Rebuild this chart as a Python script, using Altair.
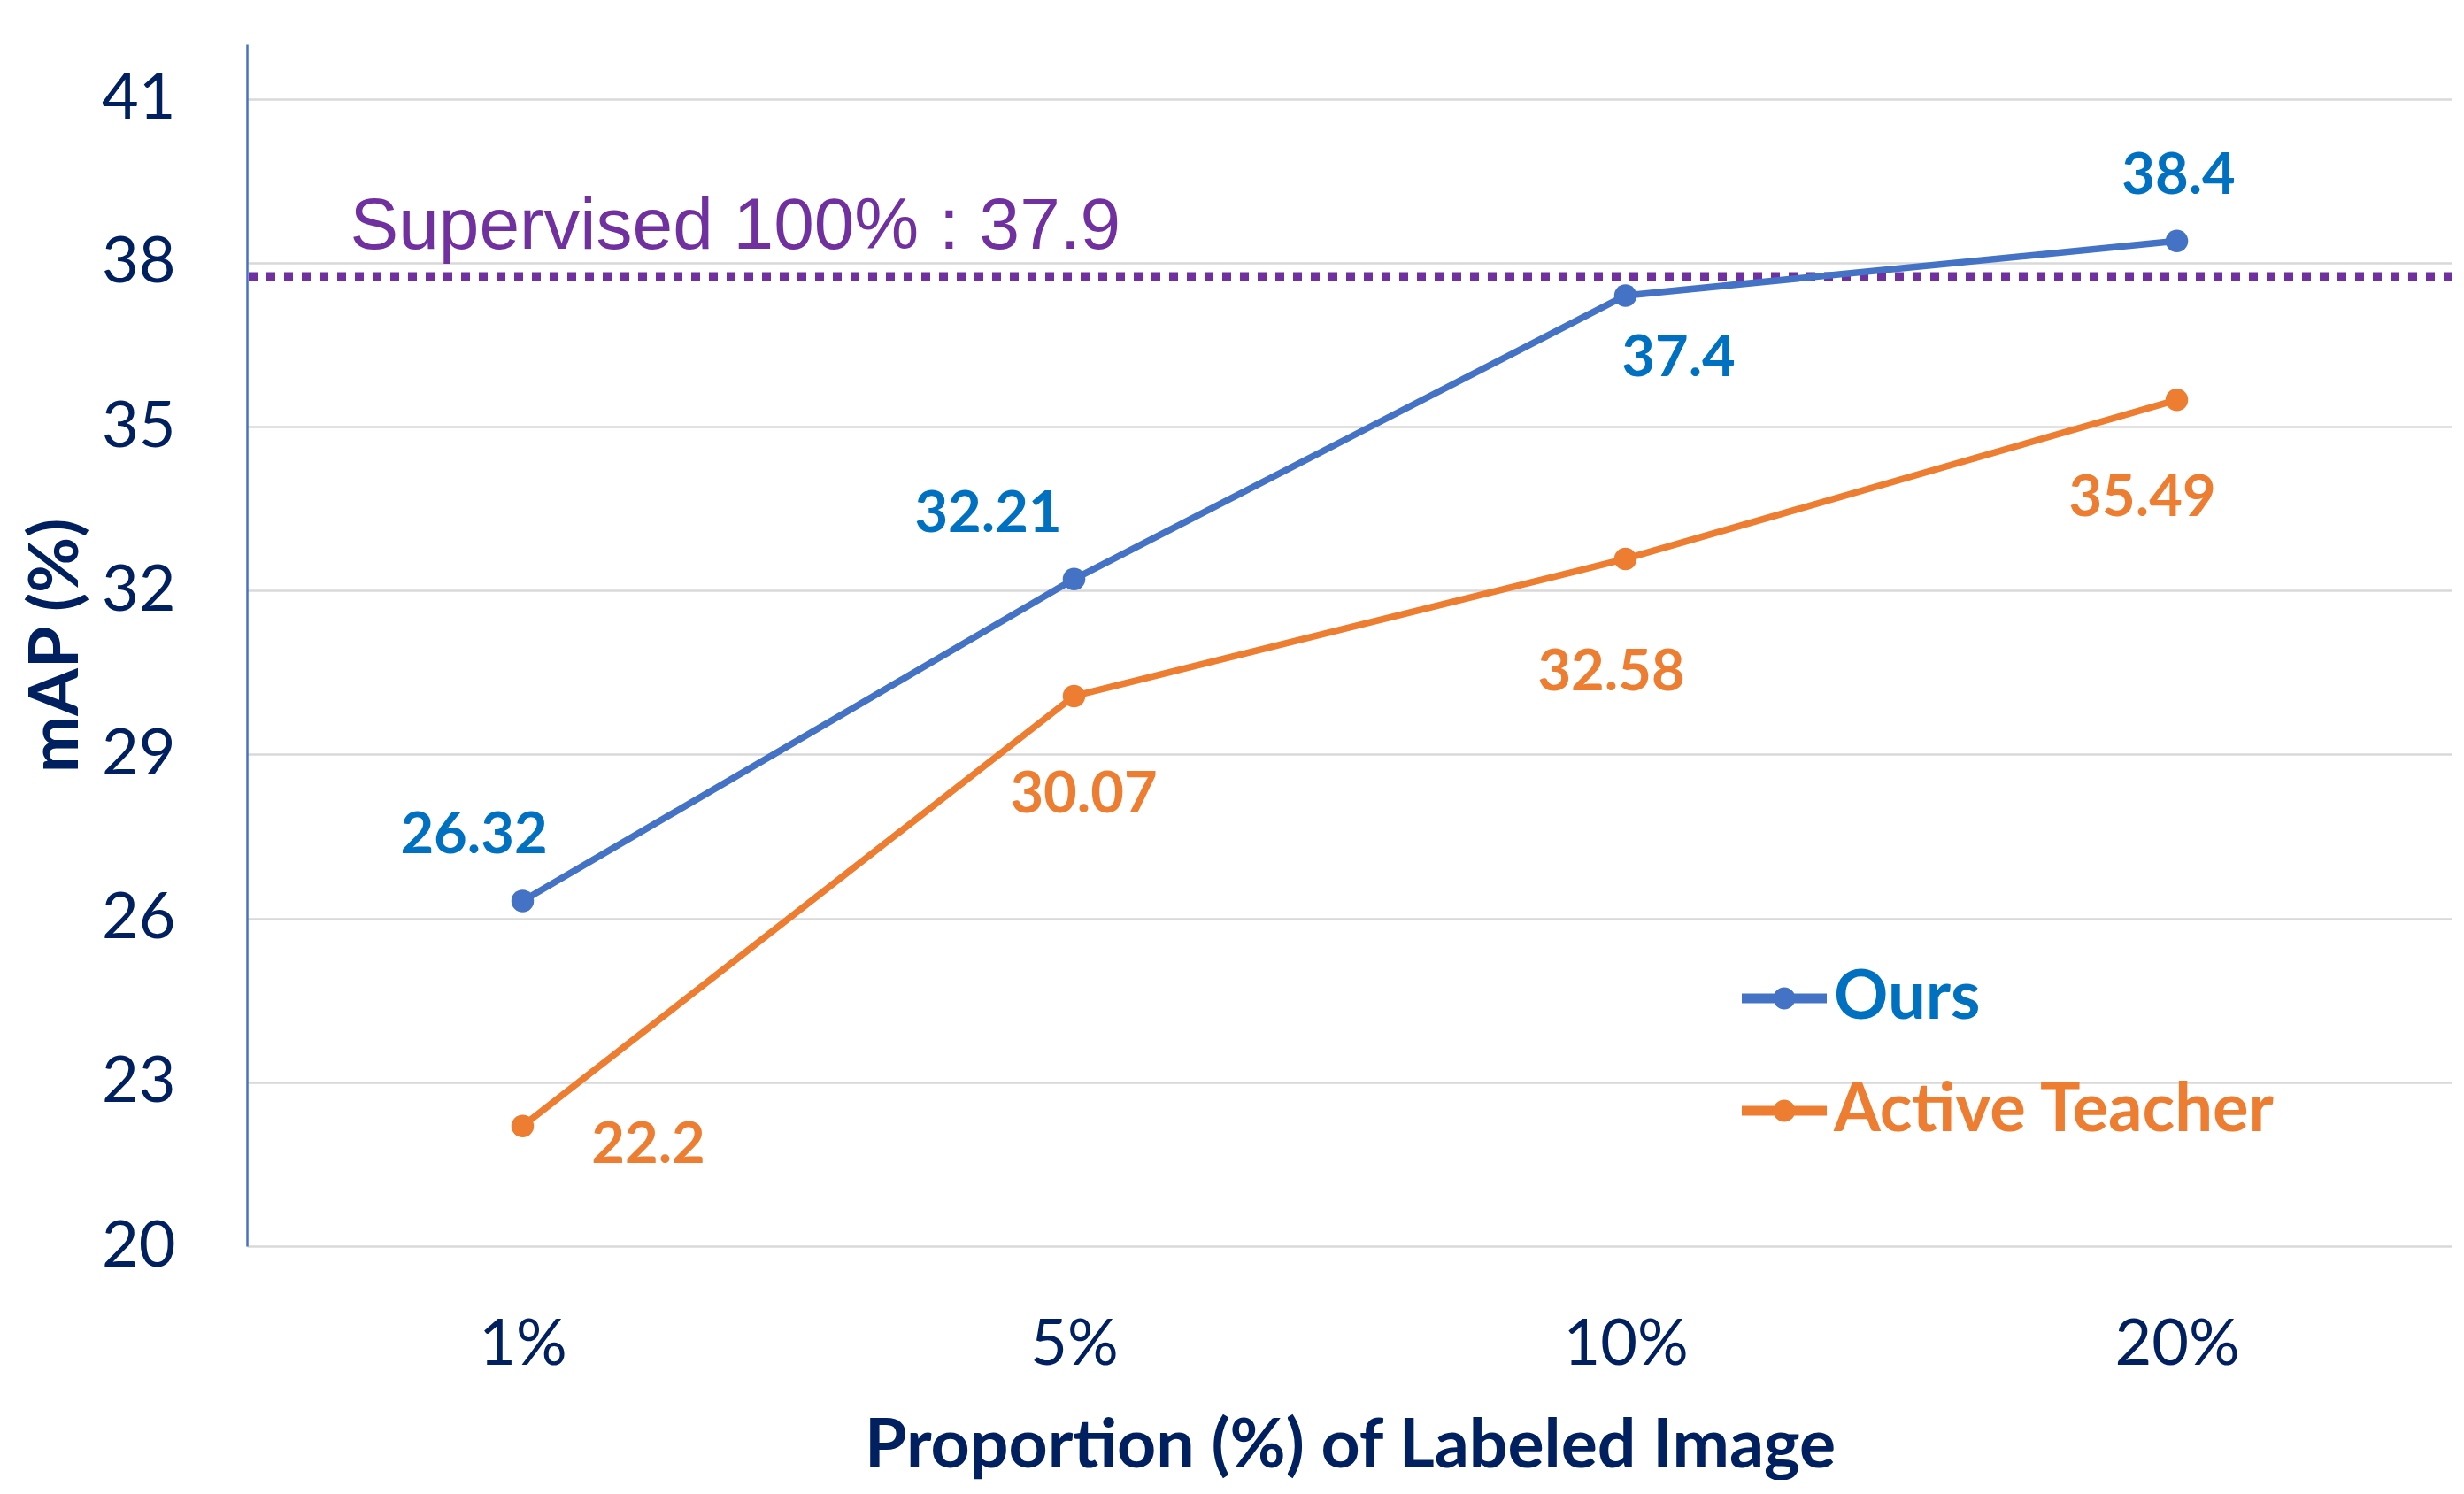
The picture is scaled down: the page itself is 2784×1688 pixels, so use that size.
import altair as alt
import pandas as pd

# ---------------- data ----------------
categories = ["1%", "5%", "10%", "20%"]
ours = [26.32, 32.21, 37.4, 38.4]
active_teacher = [22.2, 30.07, 32.58, 35.49]
series_names = ["Ours", "Active Teacher"]
y_ticks = [20, 23, 26, 29, 32, 35, 38, 41]
supervised_text = "Supervised 100% : 37.9"
supervised_level = 37.75  # where the dotted line is drawn in the picture

# ---------------- styles ----------------
line_colors = {"Ours": "#4472C4", "Active Teacher": "#ED7D31"}
label_colors = {"Ours": "#0070C0", "Active Teacher": "#ED7D31"}
navy = "#002060"
purple = "#7030A0"
# label offsets (dx, dy) in px for each point's value label
label_offsets = {
    "Ours": [(-55, -74), (-97, -73), (60, 71), (2, -73)],
    "Active Teacher": [(142, 22), (11, 112), (-16, 129), (-39, 111)],
}

rows = []
for name, vals in zip(series_names, [ours, active_teacher]):
    for c, v in zip(categories, vals):
        rows.append({"category": c, "series": name, "value": v, "label": str(v)})
df = pd.DataFrame(rows)

sup_df = pd.DataFrame({"category": [categories[0]], "value": [supervised_level],
                       "label": [supervised_text]})

W, H = 2492, 1358

x_enc = alt.X(
    "category:N",
    sort=categories,
    scale=alt.Scale(type="point", padding=0.5),
    axis=alt.Axis(
        title="Proportion (%) of Labeled Image",
        domain=False, ticks=False, grid=False, labelAngle=0,
        labelFont="Lato", labelFontSize=72, labelColor=navy, labelPadding=76,
        titleFont="Lato", titleFontSize=77, titleFontWeight="bold", titleColor=navy,
        titleY=249, titleBaseline="alphabetic",
    ),
)
y_enc = alt.Y(
    "value:Q",
    scale=alt.Scale(domain=[20, 42], nice=False, zero=False),
    axis=alt.Axis(
        title="mAP (%)",
        values=y_ticks, grid=True, gridColor="#D9D9D9", gridWidth=2.5,
        domain=True, domainColor="#4472C4", domainWidth=2.5, ticks=False,
        labelFont="Lato", labelFontSize=72, labelColor=navy, labelPadding=81,
        titleFont="Lato", titleFontSize=77, titleFontWeight="bold", titleColor=navy,
        titleAngle=-90, titleX=-192, titleY=H / 2, titleAlign="center",
        titleBaseline="alphabetic",
    ),
)

stroke_scale = alt.Scale(domain=series_names,
                         range=[line_colors[s] for s in series_names])

legend_symbol = ("M-1,-0.115L1,-0.115L1,0.115L-1,0.115Z"
                 "M0.26,0A0.26,0.26,0,1,1,-0.26,0A0.26,0.26,0,1,1,0.26,0Z")


def make_legend(name, y):
    return alt.Legend(
        orient="none", legendX=1689, legendY=y, title=None,
        symbolType=legend_symbol, symbolSize=9216, symbolStrokeWidth=0,
        labelFont="Lato", labelFontSize=76, labelFontWeight="bold",
        labelColor=label_colors[name],
        labelOffset=8, padding=0, labelLimit=1000,
    )


base = alt.Chart(df)

sup_rule = alt.Chart(sup_df).mark_rule(
    color=purple, strokeWidth=9.5, strokeDash=[10, 10]
).encode(y=y_enc)

sup_label = alt.Chart(sup_df).mark_text(
    align="left", baseline="alphabetic", dx=-195, dy=-31,
    font="Liberation Sans", fontSize=82, color=purple,
).encode(x=x_enc, y=y_enc, text="label:N")

lines = base.mark_line(strokeWidth=7.5).encode(
    x=x_enc, y=y_enc,
    stroke=alt.Stroke("series:N", scale=stroke_scale, legend=None),
)

points_ours = base.transform_filter("datum.series == 'Ours'").mark_point(
    filled=True, size=650, opacity=1, strokeWidth=0
).encode(
    x=x_enc, y=y_enc,
    fill=alt.Fill("series:N",
                  scale=alt.Scale(domain=["Ours"], range=[line_colors["Ours"]]),
                  legend=make_legend("Ours", 1030)),
)
points_active = base.transform_filter("datum.series == 'Active Teacher'").mark_point(
    filled=True, size=650, opacity=1, strokeWidth=0
).encode(
    x=x_enc, y=y_enc,
    color=alt.Color("series:N",
                    scale=alt.Scale(domain=["Active Teacher"],
                                    range=[line_colors["Active Teacher"]]),
                    legend=make_legend("Active Teacher", 1157)),
)

label_layers = []
for name in series_names:
    for c, (dx, dy) in zip(categories, label_offsets[name]):
        label_layers.append(
            base.transform_filter(
                f"datum.series == '{name}' && datum.category == '{c}'"
            ).mark_text(
                font="Lato", fontWeight="bold", fontSize=65,
                color=label_colors[name], dx=dx, dy=dy,
                align="center", baseline="middle",
            ).encode(x=x_enc, y=y_enc, text="label:N")
        )

chart = alt.layer(
    sup_rule, lines, points_ours, points_active, *label_layers, sup_label
).properties(
    width=W, height=H,
    autosize=alt.AutoSizeParams(type="none"),
    padding={"left": 271, "top": 42, "right": 0, "bottom": 264},
    background="white",
).resolve_scale(
    fill="independent", color="independent", stroke="independent"
).configure_view(stroke=None)

chart.save("out.html", embed_options={"renderer": "svg", "actions": False})
